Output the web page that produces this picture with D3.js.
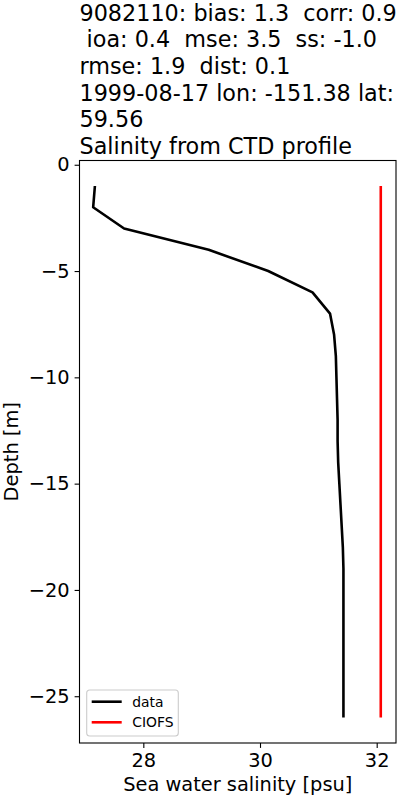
<!DOCTYPE html>
<html>
<head>
<meta charset="utf-8">
<script src="https://cdn.jsdelivr.net/npm/d3@7"></script>
<style>
  body { margin: 0; background: #fff; }
  svg { display: block; font-family: "DejaVu Sans", sans-serif; }
</style>
</head>
<body>
<div id="main-vis"></div>
<script>
// title lines
const titleLines = [
    "9082110: bias: 1.3  corr: 0.9",
    " ioa: 0.4  mse: 3.5  ss: -1.0",
    "rmse: 1.9  dist: 0.1",
    "1999-08-17 lon: -151.38 lat:",
    "59.56",
    "Salinity from CTD profile"
]

// depths (m) of the profile
const depth = [-1, -2, -3, -4, -5, -6, -7, -8, -9, -10, -11, -12, -13,
    -14, -15, -16, -17, -18, -19, -20, -21, -22, -23, -24, -25, -26]

// observed salinity
const dataSal = [27.17, 27.14, 27.67, 29.12, 30.14, 30.90, 31.20, 31.27, 31.30,
    31.31, 31.32, 31.33, 31.33, 31.34, 31.36, 31.38, 31.40, 31.42, 31.43,
    31.43, 31.43, 31.43, 31.43, 31.43, 31.43, 31.43]

// model salinity
const ciofsSal = [32.07, 32.07, 32.07, 32.07, 32.07, 32.07, 32.07, 32.07, 32.07,
    32.07, 32.07, 32.07, 32.07, 32.07, 32.07, 32.07, 32.07, 32.07, 32.07,
    32.07, 32.07, 32.07, 32.07, 32.07, 32.07, 32.07]

const xTicks = [28, 30, 32]
const yTicks = [0, -5, -10, -15, -20, -25]

const series = [
    {name: "data", vals: dataSal, color: "#000000"},
    {name: "CIOFS", vals: ciofsSal, color: "#ff0000"}
]

const W = 400, H = 800
const pL = 79.5, pR = 396, pT = 160.5, pB = 743

const svg = d3.create("svg").attr("width", W).attr("height", H)

const x = d3.scaleLinear().domain([26.906, 32.331]).range([pL, pR])
const y = d3.scaleLinear().domain([0.2, -27.2]).range([pT, pB])

// title
svg.append("g").selectAll("text")
    .data(titleLines)
    .join("text")
    .attr("x", pL)
    .attr("y", (d, i) => 20.8 + i * 26.6)
    .style("font-size", "22.3px")
    .attr("fill", "#000")
    .style("white-space", "pre")
    .text(d => d)

// lines
const line = d3.line()
    .x(d => x(d[0]))
    .y(d => y(d[1]))

svg.append("g").selectAll("path")
    .data(series)
    .join("path")
    .attr("d", s => line(s.vals.map((v, i) => [v, depth[i]])))
    .attr("fill", "none")
    .attr("stroke", s => s.color)
    .attr("stroke-width", 2.6)
    .attr("stroke-linejoin", "round")

// axes
const xAxis = d3.axisBottom(x).tickValues(xTicks).tickFormat(d3.format("d"))
    .tickSize(4.9).tickPadding(5)
const yAxis = d3.axisLeft(y).tickValues(yTicks).tickFormat(d3.format("d"))
    .tickSize(4.9).tickPadding(5)

const gx = svg.append("g").attr("transform", `translate(0,${pB})`).call(xAxis)
const gy = svg.append("g").attr("transform", `translate(${pL},0)`).call(yAxis)
for (const g of [gx, gy]) {
    g.attr("font-size", null).attr("font-family", null)
    g.select(".domain").remove()
    g.selectAll(".tick line").attr("stroke", "#000").attr("stroke-width", 1.1)
    g.selectAll(".tick text")
        .style("font-size", "19.4px")
        .style("font-family", "DejaVu Sans")
        .attr("fill", "#000")
}

// frame
svg.append("rect")
    .attr("x", pL).attr("y", pT)
    .attr("width", pR - pL).attr("height", pB - pT)
    .attr("fill", "none").attr("stroke", "#000").attr("stroke-width", 1.1)

// axis labels
svg.append("text")
    .attr("x", (pL + pR) / 2).attr("y", 791)
    .attr("text-anchor", "middle").style("font-size", "19.4px")
    .text("Sea water salinity [psu]")

svg.append("text")
    .attr("transform", `translate(17.5,${(pT + pB) / 2}) rotate(-90)`)
    .attr("text-anchor", "middle").style("font-size", "19.4px")
    .text("Depth [m]")

// legend
const leg = svg.append("g").attr("transform", "translate(86.7,690)")
leg.append("rect")
    .attr("width", 91.6).attr("height", 46).attr("rx", 3)
    .attr("fill", "#fff").attr("fill-opacity", 0.8)
    .attr("stroke", "#cccccc").attr("stroke-width", 1.1)
const items = leg.selectAll("g.item")
    .data(series)
    .join("g")
    .attr("class", "item")
    .attr("transform", (d, i) => `translate(0,${11.7 + i * 20.6})`)
items.append("line")
    .attr("x1", 5).attr("x2", 35)
    .attr("stroke", d => d.color).attr("stroke-width", 2.6)
items.append("text")
    .attr("x", 45.6).attr("y", 4.9)
    .style("font-size", "13.9px")
    .text(d => d.name)

document.querySelector("#main-vis").appendChild(svg.node())
</script>
</body>
</html>
